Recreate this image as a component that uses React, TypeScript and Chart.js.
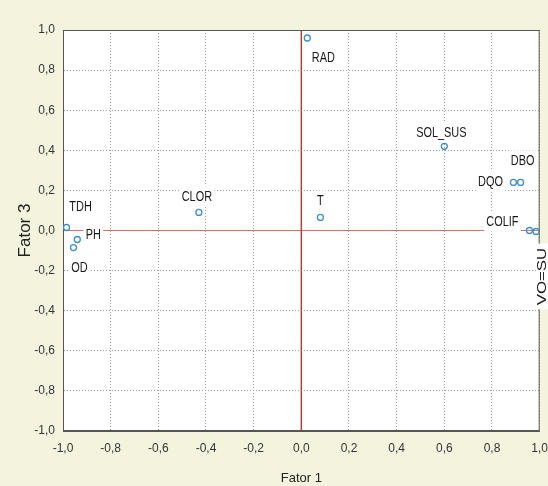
import React, { useEffect, useRef } from 'react';
import { Chart, registerables } from 'chart.js';

Chart.register(...registerables);

// ---- data ----
const variableNames = ['RAD', 'CLOR', 'T', 'SOL_SUS', 'DBO', 'DQO', 'COLIF', 'VO=SU', 'TDH', 'PH', 'OD'];
const fator1 = [0.025, -0.43, 0.08, 0.6, 0.92, 0.89, 0.957, 0.985, -0.985, -0.94, -0.956];
const fator3 = [0.96, 0.09, 0.065, 0.42, 0.24, 0.24, 0.0, -0.005, 0.015, -0.045, -0.085];
const axisMin = -1;
const axisMax = 1;
const axisStep = 0.2;
const xTitle = 'Fator 1';
const yTitle = 'Fator 3';

// label placement (pixel offset from its point, rotated flag)
const labelOffsets: [number, number, boolean][] = [
  [16, 19, false],
  [-2, -16, false],
  [0, -17, false],
  [-3, -14, false],
  [2, -22, false],
  [-23, -1, false],
  [-27, -9, false],
  [6, 45, true],
  [14, -21, false],
  [16, -5, false],
  [6, 20, false],
];

const FONT = '"Liberation Sans", Arial, sans-serif';

const fmt = (v: number) => {
  const n = Math.abs(v) < 1e-9 ? 0 : v;
  return n.toFixed(1).replace('.', ',');
};

const decorPlugin = {
  id: 'decor',
  beforeDraw(chart: any) {
    const { ctx, chartArea: a } = chart;
    ctx.save();
    ctx.fillStyle = '#f4f4de';
    ctx.fillRect(0, 0, chart.width, chart.height);
    ctx.fillStyle = '#ffffff';
    ctx.fillRect(a.left, a.top, a.right - a.left, a.bottom - a.top);
    ctx.restore();
  },
  beforeDatasetsDraw(chart: any) {
    const { ctx, chartArea: a, scales } = chart;
    const x0 = scales.x.getPixelForValue(0);
    const y0 = scales.y.getPixelForValue(0);
    ctx.save();
    ctx.strokeStyle = '#d0736a';
    ctx.lineWidth = 1.2;
    ctx.beginPath();
    ctx.moveTo(a.left, y0);
    ctx.lineTo(a.right, y0);
    ctx.stroke();
    ctx.strokeStyle = '#a8463a';
    ctx.lineWidth = 1.5;
    ctx.beginPath();
    ctx.moveTo(x0, a.top);
    ctx.lineTo(x0, a.bottom);
    ctx.stroke();
    ctx.strokeStyle = '#555555';
    ctx.lineWidth = 1;
    ctx.strokeRect(a.left + 0.5, a.top + 0.5, a.right - a.left - 1, a.bottom - a.top - 1);
    ctx.restore();
  },
  afterDatasetsDraw(chart: any) {
    const { ctx } = chart;
    const meta = chart.getDatasetMeta(0);
    meta.data.forEach((pt: any, i: number) => {
      const name = variableNames[i];
      const [dx, dy, rot] = labelOffsets[i];
      ctx.save();
      ctx.translate(pt.x + dx, pt.y + dy);
      if (rot) ctx.rotate(-Math.PI / 2);
      ctx.scale(rot ? 1.4 : 0.78, 1);
      ctx.font = `${rot ? 12 : 14}px ${FONT}`;
      const w = ctx.measureText(name).width;
      const h = rot ? 12 : 20;
      ctx.fillStyle = '#ffffff';
      ctx.fillRect(-w / 2 - 3, -h / 2, w + 6, h);
      ctx.fillStyle = '#1a1a1a';
      ctx.textAlign = 'center';
      ctx.textBaseline = 'middle';
      ctx.fillText(name, 0, 1);
      ctx.restore();
    });
  },
};

export default function App() {
  const ref = useRef<HTMLCanvasElement | null>(null);

  useEffect(() => {
    if (!ref.current) return;
    const points = fator1.map((x, i) => ({ x, y: fator3[i] }));
    const chart = new Chart(ref.current, {
      type: 'scatter',
      data: {
        datasets: [
          {
            label: 'loadings',
            data: points,
            pointStyle: 'circle',
            pointRadius: 3,
            pointBorderWidth: 1.3,
            borderColor: '#3f8fc2',
            backgroundColor: 'rgba(0,0,0,0)',
          },
        ],
      },
      options: {
        responsive: false,
        animation: false,
        devicePixelRatio: 1,
        layout: { padding: { top: 30, right: 8, left: 0, bottom: 0 } },
        plugins: {
          legend: { display: false },
          tooltip: { enabled: false },
        },
        scales: {
          x: {
            type: 'linear',
            min: axisMin,
            max: axisMax,
            afterFit: (s: any) => {
              s.height = 55;
            },
            ticks: {
              stepSize: axisStep,
              callback: (v: any) => fmt(Number(v)),
              color: '#333333',
              font: { family: FONT, size: 12 },
              padding: 0,
              maxRotation: 0,
            },
            grid: {
              color: '#9c9c9c',
              lineWidth: 1,
              drawTicks: true,
              tickLength: 10,
              tickColor: 'rgba(0,0,0,0)',
            },
            border: { display: true, color: '#555555', dash: [1, 2] },
            title: {
              display: true,
              text: xTitle,
              color: '#222222',
              font: { family: FONT, size: 13 },
              padding: { top: 0, bottom: 0 },
            },
          },
          y: {
            type: 'linear',
            min: axisMin,
            max: axisMax,
            afterFit: (s: any) => {
              s.width = 63;
            },
            ticks: {
              stepSize: axisStep,
              callback: (v: any) => fmt(Number(v)),
              color: '#333333',
              font: { family: FONT, size: 12 },
              padding: 8,
            },
            grid: { color: '#9c9c9c', lineWidth: 1, drawTicks: false },
            border: { display: true, color: '#555555', dash: [1, 2] },
            title: {
              display: true,
              text: yTitle,
              color: '#222222',
              font: { family: FONT, size: 17 },
              padding: { top: 15, bottom: 0 },
            },
          },
        },
      },
      plugins: [decorPlugin],
    });
    return () => chart.destroy();
  }, []);

  return (
    <div style={{ position: 'absolute', left: 0, top: 0, width: 548, height: 486 }}>
      <canvas ref={ref} width={548} height={486} style={{ display: 'block' }} />
    </div>
  );
}
